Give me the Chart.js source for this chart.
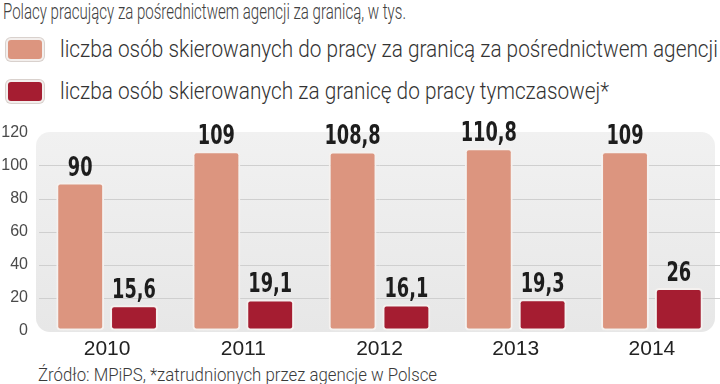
<!DOCTYPE html>
<html lang="pl">
<head>
<meta charset="utf-8">
<script src="https://cdn.jsdelivr.net/npm/chart.js@4.4.1/dist/chart.umd.min.js"></script>
<style>
  html, body { margin: 0; padding: 0; background: #fff; }
  #page { position: relative; width: 720px; height: 384px; overflow: hidden;
    font-family: Roboto, "DejaVu Sans Condensed", sans-serif; font-weight: 300; color: #3a3a3a; }
  .fit { position: absolute; white-space: nowrap; line-height: 1; transform-origin: 0 0; }
  #title { left: 3px; top: 1px; font-size: 22px; color: #404040; }
  .legend-row { position: absolute; left: 6px; height: 24px; }
  .legend-box { position: absolute; left: 0; top: 0; width: 34px; height: 19px; border: 2px solid #f3efed;
    border-radius: 5px; box-shadow: 0 0 0 1px #d9d1cd; }
  .legend-text { left: 54px; top: -1px; font-size: 24px; color: #333; }
  #source { left: 38px; top: 366px; font-size: 18px; color: #3a3a3a; }
  #wrap { position: absolute; left: 0; top: 110px; width: 720px; height: 251px; }
</style>
</head>
<body>
<div id="page">
  <div id="title" class="fit">Polacy pracujący za pośrednictwem agencji za granicą, w tys.</div>
  <div id="legend"></div>
  <div id="wrap"><canvas id="chart"></canvas></div>
  <div id="source" class="fit">Źródło: MPiPS, *zatrudnionych przez agencje w Polsce</div>
</div>
<script>
const years = ['2010', '2011', '2012', '2013', '2014'];
const viaAgency = [90, 109, 108.8, 110.8, 109];
const temporary = [15.6, 19.1, 16.1, 19.3, 26];
const seriesNames = [
  'liczba osób skierowanych do pracy za granicą za pośrednictwem agencji',
  'liczba osób skierowanych za granicę do pracy tymczasowej*'
];
const seriesColors = ['#dc957f', '#a51d31'];
const yTicks = [0, 20, 40, 60, 80, 100, 120];

(function () {
  const boldFont = '"DejaVu Sans Condensed", "DejaVu Sans", sans-serif';

  function formatValue(v) {
    return String(v).replace('.', ',');
  }

  // squeeze a text element horizontally to the width it has in the print original
  function fitWidth(el, target) {
    const w = el.getBoundingClientRect().width;
    const s = target / w;
    el.style.transform = 'scaleX(' + s + ')';
    return s;
  }

  function buildLegend() {
    const legend = document.getElementById('legend');
    const rowTops = [38, 80];
    const texts = [];
    seriesNames.forEach((name, i) => {
      const row = document.createElement('div');
      row.className = 'legend-row';
      row.style.top = rowTops[i] + 'px';
      const box = document.createElement('div');
      box.className = 'legend-box';
      box.style.background = seriesColors[i];
      const text = document.createElement('div');
      text.className = 'fit legend-text';
      text.textContent = name;
      row.appendChild(box);
      row.appendChild(text);
      legend.appendChild(row);
      texts.push(text);
    });
    const s = fitWidth(texts[0], 658);
    texts[1].style.transform = 'scaleX(' + s + ')';
  }

  // grey rounded panel behind the bars
  const panelPlugin = {
    id: 'panel',
    beforeDraw(chart) {
      const { ctx, chartArea } = chart;
      const left = chartArea.left - 3;
      const right = chartArea.right - 5;
      const top = chartArea.top - 1;
      const bottom = chartArea.bottom + 1;
      const g = ctx.createLinearGradient(0, top, 0, bottom);
      g.addColorStop(0, '#f1f1f1');
      g.addColorStop(1, '#e7e7e7');
      ctx.save();
      ctx.fillStyle = g;
      ctx.beginPath();
      ctx.roundRect(left, top, right - left, bottom - top, 14);
      ctx.fill();
      ctx.restore();
    }
  };

  const valueLabels = {
    id: 'valueLabels',
    afterDatasetsDraw(chart) {
      const { ctx } = chart;
      ctx.save();
      ctx.font = 'bold 26px ' + boldFont;
      ctx.fillStyle = '#1d1d1d';
      ctx.textAlign = 'center';
      ctx.textBaseline = 'alphabetic';
      chart.data.datasets.forEach((ds, di) => {
        chart.getDatasetMeta(di).data.forEach((bar, i) => {
          ctx.save();
          ctx.translate(bar.x, bar.y - 7);
          ctx.scale(0.76, 1);
          ctx.fillText(formatValue(ds.data[i]), 0, 0);
          ctx.restore();
        });
      });
      ctx.restore();
    }
  };

  function buildChart() {
    const datasets = [viaAgency, temporary].map((values, i) => ({
      label: seriesNames[i],
      data: values,
      backgroundColor: seriesColors[i],
      borderColor: '#f5f1ef',
      borderWidth: 2,
      borderRadius: 4,
      borderSkipped: false,
      categoryPercentage: 0.79,
      barPercentage: 0.89
    }));

    new Chart('chart', {
      type: 'bar',
      data: { labels: years, datasets: datasets },
      plugins: [panelPlugin, valueLabels],
      options: {
        responsive: true,
        maintainAspectRatio: false,
        animation: false,
        layout: { padding: { top: 23, right: 0, left: 0, bottom: 0 } },
        plugins: {
          legend: { display: false },
          tooltip: { enabled: false }
        },
        scales: {
          x: {
            afterFit(axis) { axis.height = 30; },
            grid: { display: false, drawTicks: false },
            border: { display: false },
            ticks: { color: '#222', font: { family: '"Liberation Sans", sans-serif', size: 21 }, padding: 6 }
          },
          y: {
            min: 0,
            max: 120,
            afterFit(axis) { axis.width = 39; },
            afterBuildTicks(axis) {
              axis.ticks = yTicks.map((v) => ({ value: v }));
            },
            grid: {
              drawTicks: false,
              color: (c) => (c.tick && (c.tick.value === 0 || c.tick.value === 120) ? 'rgba(0,0,0,0)' : '#cfcfcf')
            },
            border: { display: false },
            ticks: { color: '#4a4a4a', font: { family: '"Liberation Sans", sans-serif', size: 16 }, padding: 11 }
          }
        }
      }
    });
  }

  fitWidth(document.getElementById('title'), 403);
  fitWidth(document.getElementById('source'), 399);
  buildLegend();
  buildChart();
})();
</script>
</body>
</html>
